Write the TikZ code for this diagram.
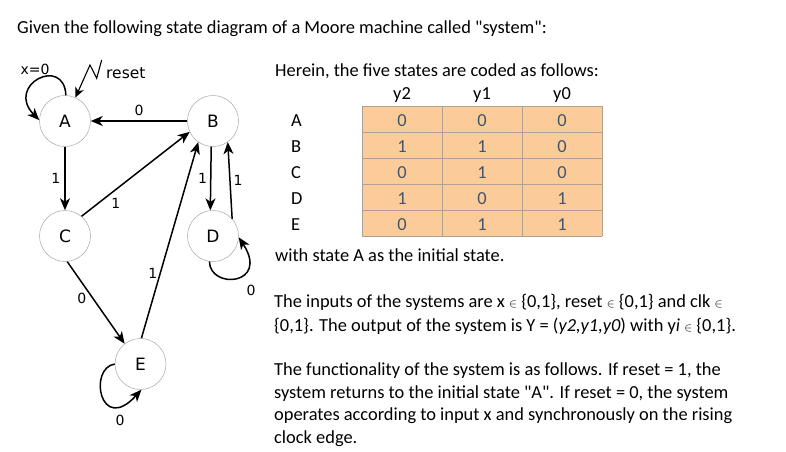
\documentclass[tikz,border=0pt]{standalone}
\usepackage{fontspec}
\setmainfont{Carlito}[Ligatures=TeXOff]
\newfontfamily\diafont{DejaVu Sans}[Ligatures=TeXOff]
\usetikzlibrary{arrows.meta}
\definecolor{peach}{RGB}{251,203,153}
\definecolor{numcol}{RGB}{68,84,106}
\definecolor{gridc}{RGB}{175,160,145}
\newcommand{\elem}{{\fontsize{13}{13}\selectfont$\in$}}
\begin{document}
\begin{tikzpicture}[x=1pt,y=-1pt,
  state/.style={circle,draw=gray!70,line width=0.5pt,minimum size=51pt,inner sep=0pt,font=\diafont\fontsize{17}{17}\selectfont},
  arr/.style={-{Stealth[length=12pt,width=10pt,inset=3.5pt]},line width=1.5pt},
  lbl/.style={font=\diafont\fontsize{14}{14}\selectfont,inner sep=0pt},
  txt/.style={anchor=base west,inner sep=0pt,font=\fontsize{18.4}{18.4}\selectfont},
  num/.style={anchor=base,text=numcol,inner sep=0pt,font=\fontsize{18.4}{18.4}\selectfont},
  hdr/.style={anchor=base,inner sep=0pt,font=\fontsize{18.4}{18.4}\selectfont}
]
\useasboundingbox (0,0) rectangle (786,451);
\fill[white] (0,0) rectangle (786,451);

% title
\node[txt] (title) at (17,33) {Given the following state diagram of a Moore machine called "system":};

% states
\node[state] (A) at (65,121) {A};
\node[state] (B) at (213,121) {B};
\node[state] (C) at (65,236) {C};
\node[state] (D) at (213,236) {D};
\node[state] (E) at (140.5,364) {E};

% transitions
\draw[arr] (B) -- node[lbl,above=5pt] {0} (A);
\draw[arr] (A) -- node[lbl,left=4pt] {1} (C);
\draw[arr] (C.50) -- node[lbl,below right=2pt,pos=0.25] {1} (B.205);
\draw[arr] (E.88) -- node[lbl,left=2pt,pos=0.33] {1} (B.235);
\draw[arr] (B.266) -- node[lbl,left=3pt] {1} (D.96);
\draw[arr] (D.42) -- node[lbl,right=3pt] {1} (B.305);
\draw[arr] (C.-85) -- node[lbl,left=6pt,pos=0.45] {0} (E.128);

% self loops
\draw[arr] (A.88) .. controls (64,55) and (5,85) .. (A.178);
\node[lbl] (lA) at (35,69) {x=0};
\draw[arr] (D.262) .. controls (210,290) and (270,285) .. (D.-3);
\node[lbl] (lD) at (251,290) {0};
\draw[arr] (E.180) .. controls (88,368) and (100,435) .. (E.-88);
\node[lbl] (lE) at (120,420) {0};

% reset
\coordinate (r0) at (101.7,60);
\coordinate (r1) at (96.7,78.3);
\coordinate (r2) at (90,65);
\draw[-{Stealth[length=10pt,width=9pt,inset=3pt]},line width=1.1pt] (r0) -- (r1) -- (r2) -- (A.66);
\node[lbl,anchor=west,font=\diafont\fontsize{15.5}{15.5}\selectfont] (lr) at (106,73) {reset};

% table
\node[txt] (herein) at (275,76) {Herein, the five states are coded as follows:};
\fill[peach] (362,106) rectangle (602,236);
\foreach \yy in {106,132,158,184,210,236} \draw[gridc,line width=0.7pt] (362,\yy) -- (602,\yy);
\foreach \xx in {362,442,522,602} \draw[gridc,line width=0.7pt] (\xx,106) -- (\xx,236);
\node[hdr] (h2) at (402,99) {y2};
\node[hdr] (h1) at (482,99) {y1};
\node[hdr] (h0) at (562,99) {y0};
\foreach \lab/\a/\b/\c [count=\i from 0] in {A/0/0/0,B/1/1/0,C/0/1/0,D/1/0/1,E/0/1/1} {
  \pgfmathsetmacro\by{126.7+26*\i}
  \node[txt] at (291,\by) {\lab};
  \node[num] at (402,\by) {\a};
  \node[num] at (482,\by) {\b};
  \node[num] at (562,\by) {\c};
}
\node[txt] (with) at (275,261) {with state A as the initial state.};

% paragraphs
\node[txt] (p1) at (274,307.3) {The inputs of the systems are x \elem{} \{0,1\}, reset \elem{} \{0,1\} and clk \elem};
\node[txt] (p2) at (274,331) {\{0,1\}. The output of the system is Y = (\textit{y2,y1,y0}) with y\textit{i} \elem{} \{0,1\}.};
\node[txt] (p3) at (274,375) {The functionality of the system is as follows. If reset = 1, the};
\node[txt] (p4) at (274,398.3) {system returns to the initial state "A". If reset = 0, the system};
\node[txt] (p5) at (274,420.7) {operates according to input x and synchronously on the rising};
\node[txt] (p6) at (274,443.3) {clock edge.};
\end{tikzpicture}
\end{document}
